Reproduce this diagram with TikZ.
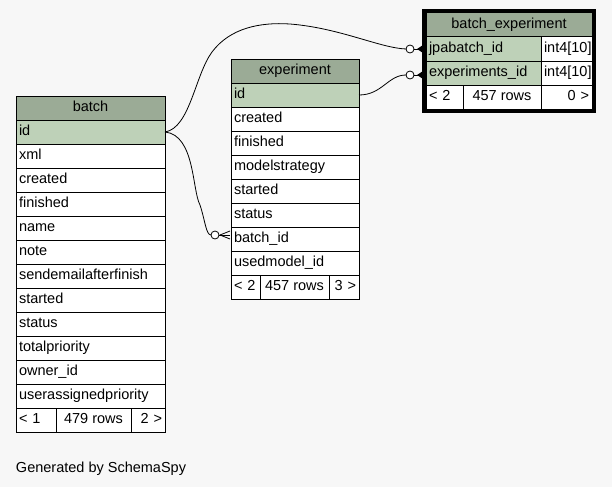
\documentclass[tikz,border=0pt]{standalone}
\usepackage{fontspec}
\setmainfont{Liberation Sans}
\definecolor{bgcol}{HTML}{F7F7F7}
\definecolor{hdrgreen}{HTML}{9BAB96}
\definecolor{keygreen}{HTML}{BED1B8}
\begin{document}
\begin{tikzpicture}[x=1pt,y=-1pt,
  every node/.style={font=\fontsize{14.5}{17}\selectfont, inner sep=0pt, outer sep=0pt},
  cell/.style={draw=black, line width=1pt, anchor=north west, minimum height=24pt,
               text height=11pt, text depth=3.5pt, inner xsep=3pt},
  hdr/.style={cell, fill=hdrgreen},
  keyrow/.style={cell, fill=keygreen, align=left},
  col/.style={cell, fill=white, align=left},
  foot/.style={cell, fill=white},
  conn/.style={draw=black, line width=0.8pt},
  odot/.style={circle, draw=black, line width=0.8pt, fill=white, minimum size=8pt},
  crow/.style={fill=black},
  frame/.style={draw=black, line width=4pt, anchor=north west}
]
% canvas
\fill[bgcol] (0,0) rectangle (612,487);
\useasboundingbox (0,0) rectangle (612,487);

% ---- table: batch ----
\node[hdr, minimum width=149pt] (b-hdr) at (16,96) {batch};
\node[keyrow, text width=143pt] (b-id) at (16,120) {id};
\foreach \nm/\txt [count=\i] in {xml/xml,created/created,finished/finished,name/name,note/note,
    sendemail/sendemailafterfinish,started/started,status/status,totalpriority/totalpriority,
    owner/owner\_id,userprio/userassignedpriority}
  \node[col, text width=143pt] (b-\nm) at (16,{120+24*\i}) {\txt};
\node[foot, minimum width=40pt, text width=34pt, align=left] (b-prev) at (16,408) {< 1};
\node[foot, minimum width=75pt] (b-rows) at (56,408) {479 rows};
\node[foot, minimum width=34pt, text width=28pt, align=right] (b-next) at (131,408) {2 >};

% ---- table: experiment ----
\node[hdr, minimum width=128pt] (e-hdr) at (231,59) {experiment};
\node[keyrow, text width=122pt] (e-id) at (231,83) {id};
\foreach \nm/\txt [count=\i] in {created/created,finished/finished,modelstrategy/modelstrategy,
    started/started,status/status,batchid/batch\_id,usedmodel/usedmodel\_id}
  \node[col, text width=122pt] (e-\nm) at (231,{83+24*\i}) {\txt};
\node[foot, minimum width=29pt, text width=23pt, align=left] (e-prev) at (231,275) {< 2};
\node[foot, minimum width=69pt] (e-rows) at (260,275) {457 rows};
\node[foot, minimum width=30pt, text width=24pt, align=right] (e-next) at (329,275) {3 >};

% ---- table: batch_experiment ----
\node[hdr, minimum width=166pt] (be-hdr) at (426,13) {batch\_experiment};
\node[keyrow, text width=109pt] (be-jpa) at (426,37) {jpabatch\_id};
\node[col, text width=45pt] (be-jpa-t) at (541,37) {int4[10]};
\node[keyrow, text width=109pt] (be-exp) at (426,61) {experiments\_id};
\node[col, text width=45pt] (be-exp-t) at (541,61) {int4[10]};
\node[foot, minimum width=37pt, text width=31pt, align=left] (be-prev) at (426,85) {< 2};
\node[foot, minimum width=78pt] (be-rows) at (463,85) {457 rows};
\node[foot, minimum width=51pt, text width=45pt, align=right] (be-next) at (541,85) {0 >};
\node[frame, minimum width=170pt, minimum height=100pt] (be-frame) at (424,11) {};

% ---- relationships ----
\node[odot] (c1) at (410,49) {};
\node[odot] (c2) at (410,75) {};
\node[odot] (c3) at (215,235) {};
\coordinate (k1) at (423,49);
\coordinate (k2) at (423,75);
\coordinate (k3) at (230,235);

% batch.id -> batch_experiment.jpabatch_id
\draw[conn] (b-id.east) .. controls (190,128) and (195,75) .. (212,52)
  .. controls (230,28) and (260,22) .. (290,24)
  .. controls (340,28) and (380,48) .. (c1.west);
\draw[conn] (c1.east) -- (k1);
\fill[crow] (417,49) -- (423,45) -- (423,53) -- cycle;

% experiment.id -> batch_experiment.experiments_id
\draw[conn] (e-id.east) .. controls (382,95) and (388,75) .. (c2.west);
\draw[conn] (c2.east) -- (k2);
\fill[crow] (417,75) -- (423,71) -- (423,79) -- cycle;

% batch.id -> experiment.batch_id
\draw[conn] (b-id.east) .. controls (195,135) and (192,190) .. (200,205)
  .. controls (205,220) and (206,235) .. (c3.west);
\draw[conn] (c3.east) -- (k3);
\draw[conn] (220,235) -- (230,231);
\draw[conn] (220,235) -- (230,239);

% footer
\node[anchor=base west] (gen) at (16,472) {Generated by SchemaSpy};
\end{tikzpicture}
\end{document}
